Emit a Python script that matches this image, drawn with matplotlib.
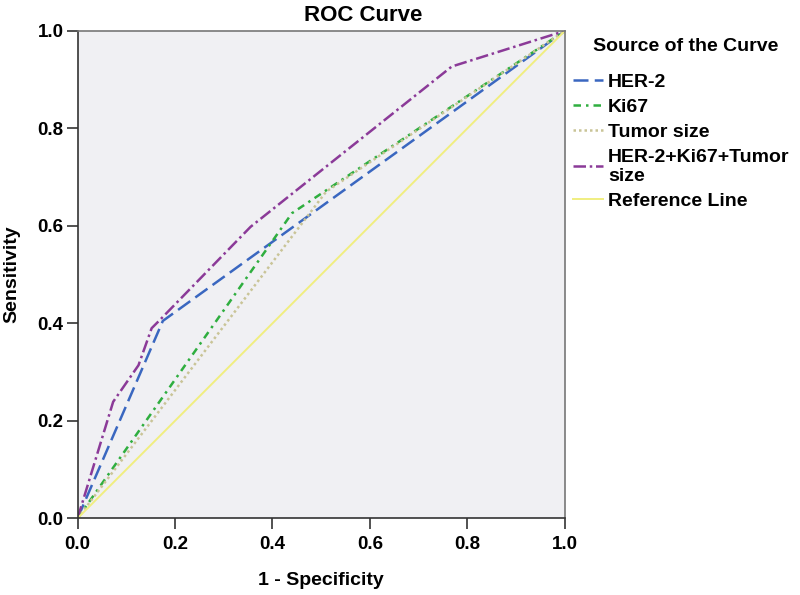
import matplotlib.pyplot as plt

plt.rcParams['font.family'] = ['Liberation Sans', 'DejaVu Sans']
plt.rcParams['font.weight'] = 'bold'

her2_x = [0.0, 0.175, 1.0]
her2_y = [0.0, 0.405, 1.0]
ki67_x = [0.0, 0.44, 1.0]
ki67_y = [0.0, 0.626, 1.0]
tumor_x = [0.0, 0.51, 1.0]
tumor_y = [0.0, 0.67, 1.0]
comb_x = [0.0, 0.073, 0.125, 0.152, 0.169, 0.355, 0.768, 1.0]
comb_y = [0.0, 0.239, 0.314, 0.39, 0.407, 0.598, 0.927, 1.0]
ref_x = [0.0, 1.0]
ref_y = [0.0, 1.0]

fig = plt.figure(figsize=(8, 5.95), dpi=100)
ax = fig.add_axes([0.097, 0.129, 0.609, 0.819])
ax.set_facecolor('#f0f0f3')

ax.plot(her2_x, her2_y, color='#3a67c0', lw=1.8, ls=(0, (6, 2.5)), label='HER-2')
ax.plot(ki67_x, ki67_y, color='#2fae3f', lw=1.8, ls=(0, (3, 2, 1, 2)), label='Ki67')
ax.plot(tumor_x, tumor_y, color='#c9c497', lw=1.8, ls=(0, (1, 1.2)), label='Tumor size')
ax.plot(comb_x, comb_y, color='#8b3a98', lw=1.8, ls=(0, (5, 1.5, 1, 1.5)),
        label='HER-2+Ki67+Tumor\nsize')
ax.plot(ref_x, ref_y, color='#f0ee80', lw=1.4, label='Reference Line')

ax.set_xlim(0, 1)
ax.set_ylim(0, 1)
ticks = [0.0, 0.2, 0.4, 0.6, 0.8, 1.0]
ax.set_xticks(ticks)
ax.set_yticks(ticks)
ax.set_xticklabels(['%.1f' % t for t in ticks], fontsize=13.5, fontweight='bold')
ax.set_yticklabels(['%.1f' % t for t in ticks], fontsize=13.5, fontweight='bold')
ax.tick_params(direction='out', length=8, width=1.2, color='#333333')
ax.tick_params(axis='x', pad=4.5)
ax.tick_params(axis='y', pad=2)

for side in ['left', 'bottom']:
    ax.spines[side].set_color('#333333')
    ax.spines[side].set_linewidth(1.2)
for side in ['top', 'right']:
    ax.spines[side].set_color('#777777')
    ax.spines[side].set_linewidth(1.2)

fig.text(363.5 / 800, 1 - 15.5 / 595, 'ROC Curve', fontsize=16,
         fontweight='bold', ha='center', va='center')
ax.set_xlabel('1 - Specificity', fontsize=14, fontweight='bold')
ax.set_ylabel('Sensitivity', fontsize=14, fontweight='bold')
ax.xaxis.set_label_coords(0.5, -0.11)
ax.yaxis.set_label_coords(-0.118, 0.5)

# legend title drawn separately (bigger gap above the entries)
fig.text(593 / 800, 1 - 46.7 / 595, 'Source of the Curve', fontsize=14,
         fontweight='bold', ha='left', va='center')
leg = ax.legend(loc='upper left',
                bbox_to_anchor=(573 / 800, 1 - 73.5 / 595),
                bbox_transform=fig.transFigure, frameon=False, fontsize=14,
                handlelength=1.55, handletextpad=0.26,
                labelspacing=0.38, borderaxespad=0, borderpad=0)
for t in leg.get_texts():
    t.set_linespacing(1.2)

fig.savefig('out.png', dpi=100)
